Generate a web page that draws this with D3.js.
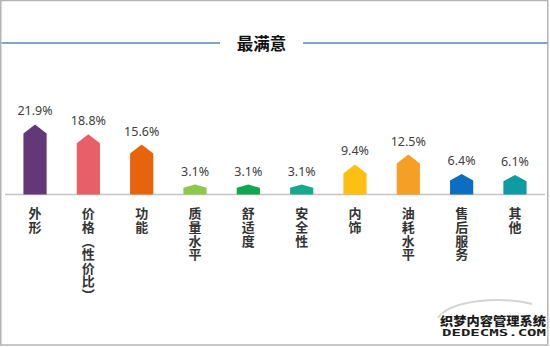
<!DOCTYPE html>
<html>
<head>
<meta charset="utf-8">
<script src="https://cdn.jsdelivr.net/npm/d3@7/dist/d3.min.js"></script>
<style>
  html, body { margin: 0; padding: 0; background: #fff; }
  svg { display: block; }
</style>
</head>
<body>
<svg id="chart" width="550" height="347"></svg>
<script>
// Satisfaction survey: share of respondents most satisfied with each aspect
const title = "最满意";
const categories = ["外形", "价格（性价比）", "功能", "质量水平", "舒适度", "安全性", "内饰", "油耗水平", "售后服务", "其他"];
const values = [21.9, 18.8, 15.6, 3.1, 3.1, 3.1, 9.4, 12.5, 6.4, 6.1];
const colors = ["#623878", "#e95f69", "#e8640c", "#8dc84c", "#13a650", "#17a98c", "#fdbf12", "#f5a024", "#0c6ec0", "#0f9ba2"];

const W = 550, H = 347;
const svg = d3.select("#chart");

// frame
svg.append("rect")
  .attr("x", 0.75).attr("y", 0.5)
  .attr("width", W - 3).attr("height", H - 2.5)
  .attr("fill", "#fff")
  .attr("stroke", "#b4b4b4")
  .attr("stroke-width", 1.5);

// title with rules on either side
const titleY = 43;
svg.append("line")
  .attr("x1", 1.5).attr("x2", 220).attr("y1", titleY).attr("y2", titleY)
  .attr("stroke", "#7aa6ce").attr("stroke-width", 2);
svg.append("line")
  .attr("x1", 303).attr("x2", 547.5).attr("y1", titleY).attr("y2", titleY)
  .attr("stroke", "#7aa6ce").attr("stroke-width", 2);
svg.append("text")
  .attr("x", 261.5).attr("y", titleY)
  .attr("text-anchor", "middle")
  .attr("dominant-baseline", "central")
  .attr("font-family", "'Noto Sans CJK SC', sans-serif")
  .attr("font-weight", "bold")
  .attr("font-size", 16.5)
  .attr("fill", "#111")
  .text(title);

// scales
const x = d3.scaleBand()
  .domain(categories)
  .range([8.5, 541.5])
  .paddingInner(0.565)
  .paddingOuter(0.28);
const y = d3.scaleLinear().domain([0, 25]).range([194.5, 114.5]);

// baseline axis
const axis = svg.append("g")
  .attr("transform", `translate(0,${y(0)})`)
  .call(d3.axisBottom(x).tickSize(0).tickFormat(""));
axis.select(".domain").remove();
axis.append("line")
  .attr("x1", 5).attr("x2", 545)
  .attr("stroke", "#c4c4c4").attr("stroke-width", 1.5);

// pentagon-topped bars
const bars = categories.map((c, i) => ({ c, v: values[i], color: colors[i] }));
function arrowPath(d) {
  const x0 = x(d.c), x1 = x0 + x.bandwidth(), xm = x0 + x.bandwidth() / 2;
  const yb = y(0), yt = y(d.v);
  const tip = Math.min(9, (yb - yt) * 0.32);
  return `M${x0},${yb}L${x0},${yt + tip}L${xm},${yt}L${x1},${yt + tip}L${x1},${yb}Z`;
}
svg.append("g").selectAll("path")
  .data(bars)
  .join("path")
  .attr("d", arrowPath)
  .attr("fill", d => d.color);

// value labels
svg.append("g").selectAll("text")
  .data(bars)
  .join("text")
  .attr("x", d => x(d.c) + x.bandwidth() / 2)
  .attr("y", d => y(d.v) - 9)
  .attr("text-anchor", "middle")
  .attr("font-family", "'Noto Sans', 'Open Sans', sans-serif")
  .attr("font-size", 12.5)
  .attr("fill", "#404040")
  .text(d => d.v.toFixed(1) + "%");

// vertical category labels
svg.append("g").selectAll("text")
  .data(bars)
  .join("text")
  .attr("x", d => x(d.c) + x.bandwidth() / 2)
  .attr("y", 207)
  .attr("writing-mode", "vertical-rl")
  .attr("font-family", "'Noto Sans CJK SC', sans-serif")
  .attr("font-weight", "bold")
  .attr("font-size", 13)
  .attr("letter-spacing", 0.6)
  .attr("fill", "#333")
  .text(d => d.c);

// site watermark, lower right
const wm = svg.append("g").attr("opacity", 0.95);
wm.append("path")
  .attr("d", "M438,318 C450,300 500,296 532,304")
  .attr("fill", "none").attr("stroke", "#d2d2d2").attr("stroke-width", 2);
wm.append("text")
  .attr("x", 440).attr("y", 326)
  .attr("textLength", 106)
  .attr("lengthAdjust", "spacingAndGlyphs")
  .attr("font-family", "'Noto Sans CJK SC', sans-serif")
  .attr("font-weight", 900)
  .attr("font-size", 12)
  .attr("fill", "#111")
  .attr("stroke", "#fff").attr("stroke-width", 2.5)
  .attr("paint-order", "stroke")
  .text("织梦内容管理系统");
wm.append("text")
  .attr("x", 442).attr("y", 335.5)
  .attr("textLength", 104)
  .attr("lengthAdjust", "spacingAndGlyphs")
  .attr("font-family", "'DejaVu Sans Mono', monospace")
  .attr("font-weight", "bold")
  .attr("font-size", 9)
  .attr("fill", "#111")
  .attr("stroke", "#fff").attr("stroke-width", 2)
  .attr("paint-order", "stroke")
  .text("DEDECMS.COM");
</script>
</body>
</html>
